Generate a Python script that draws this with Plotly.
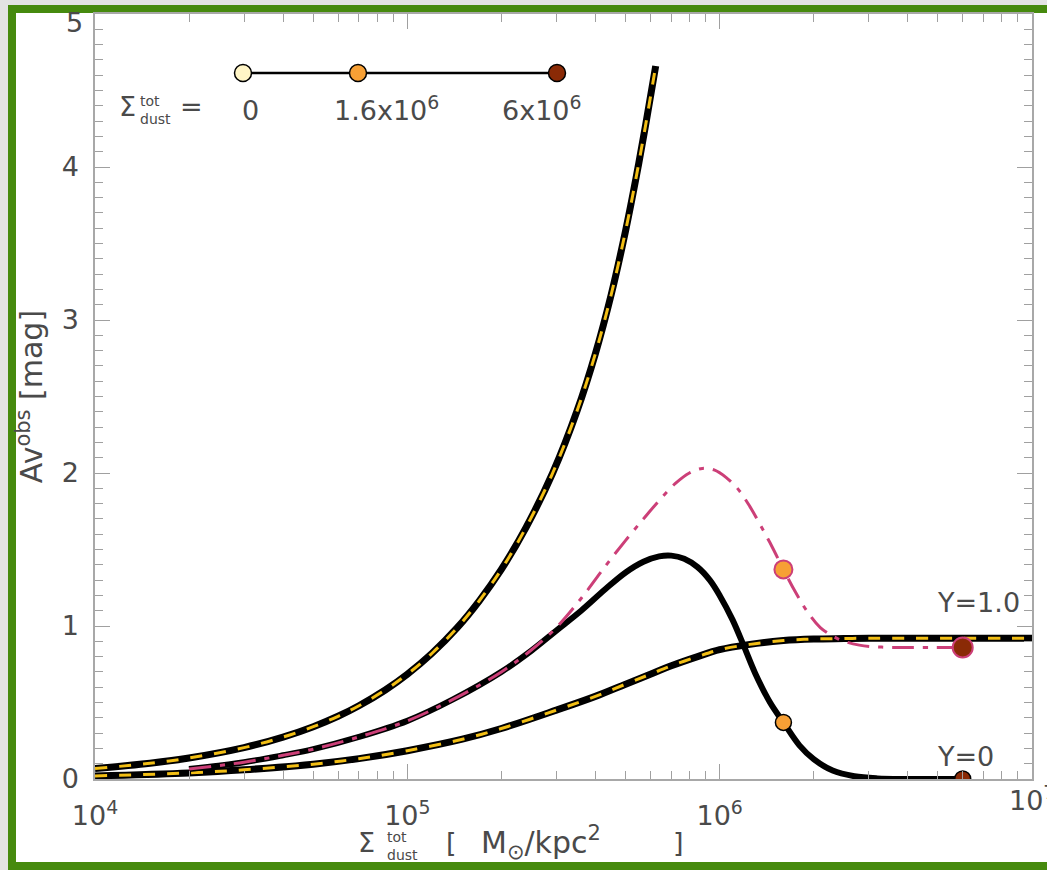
import plotly.graph_objects as go

# ---------------------------------------------------------------------------
# Observed V-band extinction versus total dust surface density
# ---------------------------------------------------------------------------

# Thin screen (upper dashed curve)
sigma_screen = [1e4, 1.5e4, 2e4, 3e4, 4e4, 5e4, 6e4, 7e4, 8.5e4, 1e5, 1.2e5,
                1.44e5, 1.7e5, 2e5, 2.4e5, 2.92e5, 3.5e5, 4e5, 4.5e5, 5e5,
                5.4e5, 5.8e5, 6.24e5]
av_screen = [0.068, 0.103, 0.137, 0.205, 0.274, 0.342, 0.41, 0.479, 0.582,
             0.685, 0.822, 0.986, 1.165, 1.37, 1.645, 2.0, 2.41, 2.78, 3.17,
             3.585, 3.93, 4.28, 4.66]

# Y = 1.0 (lower dashed curve, saturating)
sigma_y1 = [1e4, 2e4, 3e4, 5e4, 7e4, 1e5, 1.5e5, 2e5, 3e5, 4e5, 5e5, 6e5,
            7e5, 8.5e5, 1e6, 1.25e6, 1.6e6, 2e6, 2.5e6, 3e6, 1e7]
av_y1 = [0.02, 0.04, 0.06, 0.097, 0.133, 0.185, 0.26, 0.33, 0.45, 0.54, 0.62,
         0.685, 0.74, 0.80, 0.845, 0.88, 0.905, 0.915, 0.918, 0.92, 0.92]

# Y = 0 (solid black curve)
sigma_y0 = [2e4, 3e4, 4e4, 5e4, 7e4, 1e5, 1.4e5, 2e5, 2.5e5, 3e5, 3.6e5,
            4.3e5, 5e5, 5.7e5, 6.4e5, 7e5, 7.7e5, 8.5e5, 9.3e5, 1e6, 1.1e6,
            1.2e6, 1.3e6, 1.45e6, 1.6e6, 1.8e6, 2e6, 2.3e6, 2.7e6, 3.2e6,
            4e6, 6e6]
av_y0 = [0.065, 0.11, 0.155, 0.195, 0.275, 0.38, 0.52, 0.70, 0.84, 0.97, 1.10,
         1.24, 1.35, 1.42, 1.455, 1.46, 1.44, 1.385, 1.30, 1.20, 1.04,
         0.86, 0.69, 0.50, 0.37, 0.22, 0.13, 0.055, 0.018, 0.004,
         0.0, 0.0]

# Intermediate case (pink dash-dot curve)
sigma_mid = [2e4, 3e4, 4e4, 5e4, 7e4, 1e5, 1.4e5, 2e5, 2.5e5, 3e5, 3.6e5,
             4.3e5, 5e5, 5.7e5, 6.4e5, 7.2e5, 8e5, 8.8e5, 9.6e5, 1.05e6,
             1.15e6, 1.25e6, 1.35e6, 1.47e6, 1.6e6, 1.75e6, 1.9e6, 2.1e6,
             2.4e6, 2.8e6, 3.3e6, 4e6, 6e6]
av_mid = [0.065, 0.11, 0.155, 0.195, 0.275, 0.38, 0.52, 0.70, 0.845, 0.99,
          1.18, 1.39, 1.56, 1.70, 1.82, 1.93, 2.0, 2.03, 2.02, 1.97,
          1.89, 1.78, 1.66, 1.52, 1.37, 1.22, 1.10, 0.99,
          0.915, 0.875, 0.862, 0.86, 0.86]

# Highlighted surface densities and their colours
marker_sigma = [1.6e6, 6e6]
marker_av_y0 = [0.37, 0.0]
marker_av_mid = [1.37, 0.86]
key_labels = ["0", "1.6x10<sup>6</sup>", "6x10<sup>6</sup>"]
key_colors = ["#fff5c6", "#f7a035", "#8a2a06"]

x_ticks = [1e4, 1e5, 1e6, 1e7]
x_ticktext = ["10<sup>4</sup>", "10<sup>5</sup>", "10<sup>6</sup>", "10<sup>7</sup>"]
x_minor = [k * 10 ** n for n in (4, 5, 6) for k in range(2, 10)]
y_ticks = [0, 1, 2, 3, 4, 5]

# ---------------------------------------------------------------------------
W, H = 1047, 870
L, R, T, B = 95, 1032, 14, 779          # plot area in pixels
FONT = "DejaVu Sans"
FS = 27
TXT = "#4a4a4a"
BLACK = "#000000"
YELLOW = "#f2be14"
PINK = "#cc3f78"


def px(x):
    return (x - L) / (R - L)


def py(y):
    return (B - y) / (B - T)


fig = go.Figure()

# dashed black/yellow curves
for xs, ys in ((sigma_screen, av_screen), (sigma_y1, av_y1)):
    fig.add_trace(go.Scatter(x=xs, y=ys, mode="lines",
                             line=dict(color=BLACK, width=7, shape="spline",
                                       smoothing=1.0),
                             hoverinfo="skip"))
    fig.add_trace(go.Scatter(x=xs, y=ys, mode="lines",
                             line=dict(color=YELLOW, width=3, shape="spline",
                                       smoothing=1.0, dash="12px,12px"),
                             hoverinfo="skip"))

# solid black curve
fig.add_trace(go.Scatter(x=sigma_y0, y=av_y0, mode="lines",
                         line=dict(color=BLACK, width=6, shape="spline",
                                   smoothing=1.0),
                         hoverinfo="skip"))

# pink dash-dot curve
fig.add_trace(go.Scatter(x=sigma_mid, y=av_mid, mode="lines",
                         line=dict(color=PINK, width=3, shape="spline",
                                   smoothing=1.0, dash="22px,9px,5px,9px"),
                         hoverinfo="skip"))

# coloured markers
fig.add_trace(go.Scatter(x=marker_sigma, y=marker_av_y0, mode="markers",
                         marker=dict(size=16, color=key_colors[1:], opacity=1,
                                     line=dict(color=BLACK, width=1.5)),
                         hoverinfo="skip"))
fig.add_trace(go.Scatter(x=marker_sigma, y=marker_av_mid, mode="markers",
                         marker=dict(size=[18, 20], color=key_colors[1:],
                                     opacity=1,
                                     line=dict(color=PINK, width=2)),
                         hoverinfo="skip"))

shapes = []
# green frame on a grey backdrop
shapes.append(dict(type="rect", xref="paper", yref="paper", layer="below",
                   x0=px(12), x1=px(1065), y0=py(866), y1=py(9),
                   line=dict(color="#468a0e", width=8), fillcolor="white"))

# colour key
key_x = [243, 358, 557]
key_y = 73
shapes.append(dict(type="line", xref="paper", yref="paper",
                   x0=px(key_x[0]), x1=px(key_x[-1]), y0=py(key_y), y1=py(key_y),
                   line=dict(color=BLACK, width=2.5)))
for kx, kc in zip(key_x, key_colors):
    shapes.append(dict(type="circle", xref="paper", yref="paper",
                       xsizemode="pixel", ysizemode="pixel",
                       xanchor=px(kx), yanchor=py(key_y),
                       x0=-8.5, x1=8.5, y0=-8.5, y1=8.5,
                       fillcolor=kc, line=dict(color=BLACK, width=1.5)))

annotations = []


def text(x, y, s, size=FS, xanchor="center", align="center"):
    annotations.append(dict(xref="paper", yref="paper", x=px(x), y=py(y),
                            text=s, showarrow=False, xanchor=xanchor,
                            yanchor="middle", align=align, borderpad=0,
                            font=dict(family=FONT, size=size, color=TXT)))


# key labels
text(127, 106, "Σ")
text(139, 110, "tot<br>dust", size=14, xanchor="left", align="left")
text(191, 106, "=")
text(250, 110, key_labels[0])
text(386, 108, key_labels[1])
text(542, 108, key_labels[2])

# curve labels
text(978, 602, "Y=1.0")
text(965, 756, "Y=0")

# x-axis title
text(366, 843, "Σ")
text(386, 846, "tot<br>dust", size=14, xanchor="left", align="left")
text(451, 843, "[")
text(541, 843, "M<sub>⊙</sub>/kpc<sup>2</sup>", size=30)
text(678, 843, "]")

# tick labels at the far ends of both axes
text(84, 23, "5", xanchor="right")
text(1032, 799, "10<sup>7</sup>")

axis_common = dict(showline=True, linecolor="#a8a8a8", linewidth=1.5,
                   mirror="ticks", ticks="inside", ticklen=15, tickwidth=1.2,
                   tickcolor="#a0a0a0", showgrid=False, zeroline=False,
                   tickfont=dict(family=FONT, size=FS, color=TXT))

fig.update_xaxes(type="log", range=[4, 7], tickvals=x_ticks[:-1],
                 ticktext=x_ticktext[:-1], ticklabelstandoff=12,
                 minor=dict(ticks="inside", ticklen=8, tickvals=x_minor,
                            tickcolor="#a0a0a0", tickwidth=1.2),
                 **axis_common)
fig.update_yaxes(range=[0, 5], tickvals=y_ticks[:-1], ticklabelstandoff=9,
                 minor=dict(ticks="inside", ticklen=8, dtick=0.1,
                            tickcolor="#a0a0a0", tickwidth=1.2),
                 title=dict(text="Av<sup>obs</sup> [mag]", standoff=10,
                            font=dict(family=FONT, size=30, color=TXT)),
                 **axis_common)

fig.update_layout(width=W, height=H,
                  margin=dict(l=L, r=W - R, t=T, b=H - B),
                  paper_bgcolor="#e3e3e3", plot_bgcolor="white",
                  showlegend=False, shapes=shapes, annotations=annotations)

fig.write_html("out.html")
